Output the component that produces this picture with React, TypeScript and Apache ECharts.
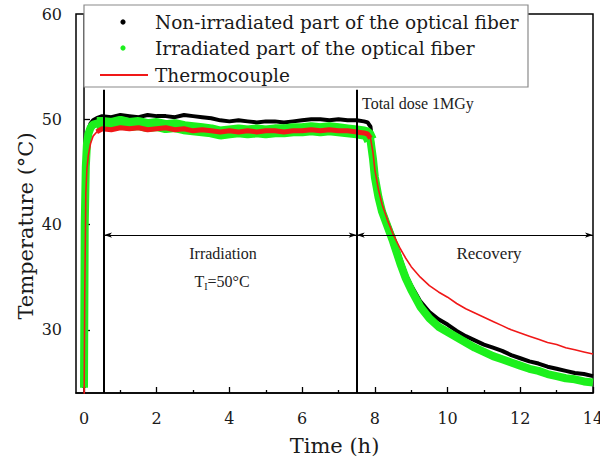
import { useEffect, useRef } from "react";
import * as echarts from "echarts";

// Sampling instants (h) shared by the three temperature records
const hours = [
  0, 0.02, 0.05, 0.08, 0.12, 0.18, 0.25, 0.35, 0.5,
  0.75, 1, 1.25, 1.5, 1.75, 2, 2.25, 2.5, 2.75, 3, 3.25, 3.5, 3.75, 4, 4.25,
  4.5, 4.75, 5, 5.25, 5.5, 5.75, 6, 6.25, 6.5, 6.75, 7, 7.25, 7.5,
  7.7, 7.8, 7.88, 7.95,
  8, 8.1, 8.2, 8.35, 8.5, 8.7, 8.85,
  9, 9.25, 9.5, 9.75, 10, 10.25, 10.5, 10.75, 11, 11.25, 11.5, 11.75, 12,
  12.25, 12.5, 12.75, 13, 13.25, 13.5, 13.75, 14,
];

// Temperature (°C) of the non-irradiated part of the fiber
const nonIrradiated = [
  24.5, 40, 46, 48, 49, 49.6, 49.9, 50.1, 50.3,
  50.2, 50.4, 50.3, 50.2, 50.4, 50.3, 50.3, 50.2, 50.4, 50.3, 50.2, 50.1, 49.9, 49.8, 49.9,
  49.8, 49.7, 49.8, 49.8, 49.7, 49.8, 49.9, 50.0, 50.0, 49.9, 50.0, 49.9, 49.9,
  49.8, 49.7, 49.3, 47.0,
  45.0, 43.0, 41.6, 40.2, 38.9, 36.8, 35.3,
  34.2, 32.7, 31.7, 31.0, 30.5, 29.9, 29.4, 29.0, 28.6, 28.3, 28.0, 27.6, 27.3,
  27.0, 26.8, 26.5, 26.3, 26.1, 25.9, 25.8, 25.6,
];

// Temperature (°C) of the irradiated part of the fiber
const irradiated = [
  24.5, 40, 45.5, 47.6, 48.6, 49.2, 49.5, 49.6, 49.6,
  49.5, 49.7, 49.5, 49.6, 49.4, 49.5, 49.3, 49.4, 49.2, 49.1, 49.0, 48.9, 48.7, 48.8, 48.9,
  48.8, 48.9, 48.8, 48.9, 48.9, 49.0, 49.0, 49.1, 49.0, 49.1, 49.0, 48.9, 48.8,
  48.7, 48.6, 48.0, 46.2,
  44.5, 42.6, 41.2, 39.8, 38.4, 36.3, 34.9,
  33.8, 32.2, 31.1, 30.3, 29.8, 29.3, 28.8, 28.3, 27.9, 27.5, 27.2, 26.9, 26.6,
  26.3, 26.1, 25.8, 25.6, 25.4, 25.3, 25.1, 25.0,
];

// Thermocouple reading (°C)
const thermocouple = [
  21, 33, 43, 45.3, 46.6, 47.7, 48.4, 48.8, 49.1,
  49.0, 49.2, 49.1, 49.2, 49.0, 49.1, 49.2, 49.0, 49.1, 48.9, 49.0, 48.9, 48.8, 48.9, 48.8,
  48.9, 48.8, 48.9, 48.9, 48.8, 48.9, 48.9, 49.0, 48.9, 49.0, 48.9, 48.9, 48.8,
  48.7, 48.6, 48.2, 46.8,
  45.2, 43.3, 41.9, 40.4, 39.1, 37.7, 36.8,
  36.0, 35.0, 34.2, 33.6, 33.1, 32.5, 32.0, 31.6, 31.2, 30.8, 30.4, 30.0, 29.7,
  29.4, 29.1, 28.8, 28.6, 28.3, 28.1, 27.9, 27.7,
];

const timeTicks = [0, 2, 4, 6, 8, 10, 12, 14];
const timeMinorTicks = [1, 3, 5, 7, 9, 11, 13];
const tempTicks = [30, 40, 50, 60];
const tempMinorTicks = [25, 35, 45, 55];

// Phase boundaries (h), marker height and arrow level (°C)
const irradiationStart = 0.55;
const irradiationEnd = 7.5;
const recoveryEnd = 14;
const markerTop = 52.8;
const arrowLevel = 39;

const legendLabels = [
  "Non-irradiated part of the optical fiber",
  "Irradiated part of the optical fiber",
  "Thermocouple",
];

// Wide serif for axis text and legend, Times-like serif for the small notes
const WIDE = "DejaVu Serif";
const TIMES = "Liberation Serif";
const GREEN = "#1cf01c";
const RED = "#f01818";
const X_MIN = -0.22;
const Y_MIN = 24;
const Y_MAX = 60;

export default function App() {
  const ref = useRef<HTMLDivElement>(null);

  useEffect(() => {
    const chart = echarts.init(ref.current!, null, { renderer: "svg" });
    const pairs = (v: number[]) => hours.map((h, i) => [h, v[i]]);
    // the noisy plateau reads as a wider band than the cooling tail
    const onPlateau = (p: number[]) => p[0] >= 0.3 && p[0] <= 7.88;
    const greenPlateau = pairs(irradiated).filter(onPlateau);
    const redPlateau = pairs(thermocouple).filter(onPlateau);

    const axisLine = { show: true, lineStyle: { color: "#000", width: 1.5 } };
    const tickStyle = { color: "#000", width: 1.3 };
    const labelStyle = { fontFamily: WIDE, fontSize: 16, color: "#1a1a1a" };

    const option: any = {
      animation: false,
      grid: {
        left: 76, right: 7, top: 14, bottom: 65,
        outerBoundsMode: "none",
        containLabel: false,
        show: true, borderColor: "#000", borderWidth: 1.5,
      },
      xAxis: [
        {
          type: "value", min: X_MIN, max: recoveryEnd, position: "bottom",
          axisLine,
          axisTick: { show: true, inside: true, length: 6, customValues: timeTicks, lineStyle: tickStyle },
          axisLabel: { ...labelStyle, customValues: timeTicks, margin: 17 },
          splitLine: { show: false },
          name: "Time (h)", nameLocation: "middle", nameGap: 42,
          nameTextStyle: { fontFamily: WIDE, fontSize: 21, color: "#1a1a1a" },
        },
        {
          type: "value", min: X_MIN, max: recoveryEnd, position: "bottom",
          axisLine: { show: false },
          axisTick: { show: true, inside: true, length: 3, customValues: timeMinorTicks, lineStyle: tickStyle },
          axisLabel: { show: false },
          splitLine: { show: false },
        },
      ],
      yAxis: [
        {
          type: "value", min: Y_MIN, max: Y_MAX, position: "left",
          axisLine,
          axisTick: { show: true, inside: true, length: 6, customValues: tempTicks, lineStyle: tickStyle },
          axisLabel: { ...labelStyle, customValues: tempTicks, margin: 14 },
          splitLine: { show: false },
        },
        {
          type: "value", min: Y_MIN, max: Y_MAX, position: "left",
          axisLine: { show: false },
          axisTick: { show: true, inside: true, length: 3, customValues: tempMinorTicks, lineStyle: tickStyle },
          axisLabel: { show: false },
          splitLine: { show: false },
        },
      ],
      series: [
        {
          name: legendLabels[0], type: "line", data: pairs(nonIrradiated),
          showSymbol: false, clip: true, z: 2,
          lineStyle: { color: "#000", width: 4 },
        },
        {
          name: legendLabels[1] + " band", type: "line", data: greenPlateau,
          showSymbol: false, clip: true, z: 3,
          lineStyle: { color: GREEN, width: 13 },
        },
        {
          name: legendLabels[1], type: "line", data: pairs(irradiated),
          showSymbol: false, clip: true, z: 3,
          lineStyle: { color: GREEN, width: 8 },
        },
        {
          name: legendLabels[2] + " band", type: "line", data: redPlateau,
          showSymbol: false, clip: true, z: 4,
          lineStyle: { color: RED, width: 5 },
        },
        {
          name: legendLabels[2], type: "line", data: pairs(thermocouple),
          showSymbol: false, clip: true, z: 4,
          lineStyle: { color: RED, width: 1.6 },
        },
        {
          name: "phases", type: "line", data: [], z: 5,
          markLine: {
            silent: true,
            animation: false,
            label: { show: false },
            lineStyle: { color: "#000", type: "solid" },
            data: [
              [
                { coord: [irradiationStart, Y_MIN], symbol: "none", lineStyle: { width: 2 } },
                { coord: [irradiationStart, markerTop], symbol: "none" },
              ],
              [
                { coord: [irradiationEnd, Y_MIN], symbol: "none", lineStyle: { width: 2 } },
                { coord: [irradiationEnd, markerTop], symbol: "none" },
              ],
              [
                { coord: [irradiationStart, arrowLevel], symbol: "arrow", symbolSize: [4, 8], lineStyle: { width: 1.2 } },
                { coord: [irradiationEnd, arrowLevel], symbol: "arrow", symbolSize: [4, 8] },
              ],
              [
                { coord: [irradiationEnd, arrowLevel], symbol: "arrow", symbolSize: [4, 8], lineStyle: { width: 1.2 } },
                { coord: [recoveryEnd, arrowLevel], symbol: "arrow", symbolSize: [4, 8] },
              ],
            ],
          },
        },
      ],
      graphic: [
        {
          type: "text", x: 26, y: 226, rotation: Math.PI / 2, z: 50,
          style: {
            text: "Temperature (°C)", fontFamily: WIDE, fontSize: 21, fill: "#1a1a1a",
            align: "center", verticalAlign: "middle",
          },
        },
        {
          type: "rect", z: 100,
          shape: { x: 84, y: 5, width: 444, height: 82 },
          style: { fill: "#fff", stroke: "#8a8a8a", lineWidth: 1.2 },
        },
        { type: "circle", z: 101, shape: { cx: 123, cy: 22, r: 2.6 }, style: { fill: "#000" } },
        { type: "circle", z: 101, shape: { cx: 123, cy: 48, r: 2.6 }, style: { fill: GREEN } },
        {
          type: "line", z: 101, shape: { x1: 100, y1: 75, x2: 148, y2: 75 },
          style: { stroke: RED, lineWidth: 2 },
        },
        ...legendLabels.map((t, i) => ({
          type: "text", z: 101, x: 155, y: 22 + i * 26.5,
          style: { text: t, fontFamily: WIDE, fontSize: 18.5, fill: "#1a1a1a", verticalAlign: "middle" },
        })),
        {
          type: "text", z: 60, x: 362, y: 103,
          style: { text: "Total dose 1MGy", fontFamily: TIMES, fontSize: 16, fill: "#222", verticalAlign: "middle" },
        },
        {
          type: "text", z: 60, x: 223, y: 253,
          style: { text: "Irradiation", fontFamily: TIMES, fontSize: 16, fill: "#222", align: "center", verticalAlign: "middle" },
        },
        {
          type: "text", z: 60, x: 222, y: 281,
          style: {
            text: "{a|T}{s|I}{a|=50°C}", align: "center", verticalAlign: "middle",
            rich: {
              a: { fontFamily: TIMES, fontSize: 16, fill: "#222" },
              s: { fontFamily: TIMES, fontSize: 10, fill: "#222", padding: [10, 0, 0, 0] },
            },
          },
        },
        {
          type: "text", z: 60, x: 489, y: 253,
          style: { text: "Recovery", fontFamily: TIMES, fontSize: 17, fill: "#222", align: "center", verticalAlign: "middle" },
        },
      ],
    };

    chart.setOption(option);
    return () => chart.dispose();
  }, []);

  return (
    <div
      ref={ref}
      style={{ position: "fixed", left: 0, top: 0, width: 600, height: 458, background: "#fff" }}
    />
  );
}
